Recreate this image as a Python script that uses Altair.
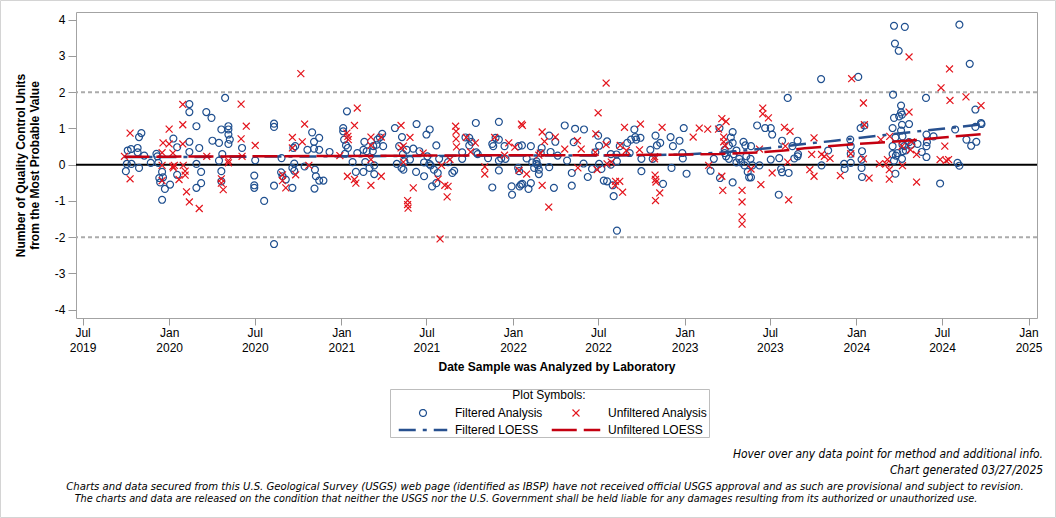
import altair as alt
import numpy as np
import pandas as pd

# ---------------- data (decimal year, units from MPV) ----------------
FILT_YEAR = [
    2019.750, 2019.754, 2019.760, 2019.779, 2019.783, 2019.818, 2019.818, 2019.827, 2019.841, 2019.827,
    2019.856, 2019.895, 2019.928, 2019.932, 2019.938, 2019.944, 2019.948, 2019.961, 2019.961, 2019.967,
    2019.977, 2020.006, 2020.025, 2020.048, 2020.048, 2020.118, 2020.118, 2020.118, 2020.118, 2020.159,
    2020.159, 2020.161, 2020.176, 2020.188, 2020.188, 2020.217, 2020.246, 2020.252, 2020.292, 2020.292,
    2020.304, 2020.304, 2020.304, 2020.310, 2020.327, 2020.345, 2020.345, 2020.345, 2020.345, 2020.355,
    2020.426, 2020.502, 2020.496, 2020.496, 2020.496, 2020.554, 2020.612, 2020.612, 2020.612, 2020.612,
    2020.651, 2020.659, 2020.655, 2020.678, 2020.717, 2020.717, 2020.723, 2020.728, 2020.728, 2020.733,
    2020.787, 2020.804, 2020.833, 2020.843, 2020.843, 2020.849, 2020.853, 2020.845, 2020.874, 2020.874,
    2020.874, 2020.897, 2020.932, 2021.013, 2021.013, 2021.019, 2021.033, 2021.029, 2021.039, 2021.023,
    2021.066, 2021.087, 2021.095, 2021.130, 2021.135, 2021.130, 2021.149, 2021.140, 2021.165, 2021.184,
    2021.188, 2021.194, 2021.194, 2021.208, 2021.213, 2021.227, 2021.240, 2021.246, 2021.314, 2021.324,
    2021.337, 2021.353, 2021.356, 2021.359, 2021.368, 2021.362, 2021.382, 2021.401, 2021.420, 2021.436,
    2021.440, 2021.455, 2021.484, 2021.484, 2021.498, 2021.504, 2021.513, 2021.517, 2021.523, 2021.541,
    2021.531, 2021.556, 2021.556, 2021.562, 2021.570, 2021.624, 2021.649, 2021.659, 2021.705, 2021.705,
    2021.725, 2021.746, 2021.746, 2021.760, 2021.785, 2021.789, 2021.795, 2021.856, 2021.880, 2021.880,
    2021.886, 2021.899, 2021.920, 2021.920, 2021.920, 2021.920, 2021.934, 2021.953, 2021.957, 2021.992,
    2021.996, 2022.031, 2022.035, 2022.037, 2022.041, 2022.047, 2022.054, 2022.056, 2022.080, 2022.093,
    2022.105, 2022.105, 2022.115, 2022.124, 2022.138, 2022.138, 2022.147, 2022.151, 2022.153, 2022.163,
    2022.169, 2022.211, 2022.211, 2022.221, 2022.240, 2022.248, 2022.263, 2022.304, 2022.316, 2022.345,
    2022.345, 2022.356, 2022.364, 2022.414, 2022.413, 2022.438, 2022.463, 2022.481, 2022.496, 2022.502,
    2022.502, 2022.516, 2022.531, 2022.548, 2022.550, 2022.570, 2022.570, 2022.583, 2022.589, 2022.606,
    2022.603, 2022.606, 2022.622, 2022.667, 2022.680, 2022.690, 2022.709, 2022.715, 2022.719, 2022.744,
    2022.748, 2022.748, 2022.802, 2022.816, 2022.831, 2022.841, 2022.860, 2022.874, 2022.919, 2022.926,
    2022.932, 2022.971, 2022.996, 2022.987, 2022.990, 2023.013, 2023.151, 2023.170, 2023.203, 2023.208,
    2023.233, 2023.233, 2023.242, 2023.258, 2023.258, 2023.271, 2023.281, 2023.281, 2023.281, 2023.287,
    2023.304, 2023.304, 2023.320, 2023.330, 2023.343, 2023.349, 2023.355, 2023.359, 2023.368, 2023.378,
    2023.388, 2023.388, 2023.384, 2023.397, 2023.423, 2023.436, 2023.471, 2023.504, 2023.510, 2023.504,
    2023.548, 2023.552, 2023.562, 2023.568, 2023.568, 2023.601, 2023.606, 2023.630, 2023.640, 2023.659,
    2023.659, 2023.663, 2023.795, 2023.798, 2023.837, 2023.930, 2023.934, 2023.965, 2023.969, 2023.969,
    2023.969, 2024.012, 2024.027, 2024.033, 2024.031, 2024.031, 2024.033, 2024.047, 2024.221, 2024.283,
    2024.225, 2024.246, 2024.215, 2024.221, 2024.211, 2024.227, 2024.211, 2024.211, 2024.221, 2024.227,
    2024.231, 2024.240, 2024.250, 2024.260, 2024.260, 2024.266, 2024.266, 2024.260, 2024.269, 2024.269,
    2024.273, 2024.266, 2024.279, 2024.289, 2024.308, 2024.308, 2024.322, 2024.356, 2024.380, 2024.405,
    2024.409, 2024.411, 2024.409, 2024.409, 2024.449, 2024.487, 2024.574, 2024.589, 2024.601, 2024.601,
    2024.659, 2024.641, 2024.667, 2024.692, 2024.692, 2024.699, 2024.725, 2024.729,
]
FILT_VAL = [
    -0.18, 0.02, 0.39, 0.43, 0.02, 0.46, 0.34, 0.76, 0.87, -0.09,
    0.25, 0.05, 0.30, 0.23, 0.05, -0.37, -0.49, -0.20, -0.97, -0.35,
    -0.67, -0.55, 0.72, 0.48, -0.28, 1.67, 1.45, 0.63, 0.35, 1.06,
    0.02, -0.64, 0.46, -0.20, -0.51, 1.45, 1.29, 0.66, 0.60, 0.11,
    -0.18, -0.46, 0.97, 0.29, 1.84, 1.06, 0.97, 0.83, 0.57, 0.69,
    0.46, 0.12, -0.30, -0.57, -0.64, -1.00, 1.13, 1.04, -0.58, -2.19,
    -0.21, -0.32, 0.18, -0.41, -0.09, -0.64, 0.46, 0.03, -0.17, 0.51,
    -0.05, 0.41, 0.89, 0.63, 0.44, -0.14, -0.32, -0.66, 0.74, 0.41,
    -0.44, -0.44, 0.35, 1.01, 0.92, 0.69, 1.47, 0.53, 0.46, 0.30,
    0.07, -0.20, 0.32, -0.20, 0.63, 0.41, 0.37, 0.07, -0.09, 0.37,
    0.51, -0.26, -0.02, 0.55, 0.69, 0.75, 0.85, 0.51, 1.01, 0.02,
    0.51, -0.09, 0.76, 0.29, 0.09, -0.14, 0.41, 0.14, 0.44, -0.20,
    1.12, 0.37, 0.06, -0.32, 0.83, 0.23, 0.02, 0.97, -0.02, -0.14,
    -0.60, 0.53, -0.51, -0.23, 0.16, 0.07, -0.23, -0.17, 0.34, 0.16,
    0.75, 0.74, 0.53, 0.63, 1.15, 0.34, 0.29, 0.18, 0.57, -0.63,
    0.51, 0.74, 1.18, 0.69, -0.16, 0.11, 0.17, 0.51, 0.16, -0.60,
    -0.83, -0.09, 0.51, -0.18, -0.60, -0.55, 0.53, -0.53, 0.17, -0.67,
    0.51, -0.51, 0.06, -0.09, 0.09, 0.02, -0.02, -0.14, -0.26, 0.32,
    0.46, 0.80, -0.07, 0.35, -0.64, 0.63, 0.25, 1.08, 0.11, -0.23,
    -0.58, 0.62, 0.99, 0.97, 0.03, -0.34, -0.12, 0.34, 0.80, 0.52,
    0.02, -0.12, -0.44, 0.64, -0.46, 0.29, 0.00, -0.57, -0.87, -1.82,
    0.28, 0.09, 0.51, 0.60, 0.32, 0.69, 0.97, 0.76, 0.69, 0.74,
    -0.18, 0.16, 0.41, 0.16, 0.80, 0.53, 0.60, -0.53, 0.76, -0.09,
    0.51, 0.66, 1.01, 0.32, 0.17, -0.25, -0.17, 0.16, 1.01, -0.37,
    0.41, 0.32, 0.23, 0.16, 0.53, 0.75, 0.60, 0.90, -0.49, 0.29,
    0.39, 0.06, 0.16, 0.06, 0.63, -0.02, 0.53, 0.23, -0.20, -0.35,
    0.51, -0.35, 0.16, -0.02, 1.08, -0.02, 1.01, 1.01, 0.83, 0.14,
    -0.83, 0.18, -0.12, -0.21, 0.66, 1.84, -0.23, 0.51, 0.17, 0.23,
    0.66, 0.29, 2.36, -0.02, 0.39, 0.02, -0.12, 0.69, 0.51, 0.30,
    0.05, 2.42, 1.01, 0.37, 0.14, -0.09, -0.34, 1.08, 3.83, 3.80,
    3.34, 3.14, 1.93, 1.29, 1.01, 0.75, 0.51, 0.29, 0.11, -0.25,
    0.25, 0.32, 1.33, 1.44, 1.63, 1.38, 1.10, 0.94, 0.78, 0.55,
    0.37, 0.16, 0.51, 0.39, 1.12, 0.62, 0.55, 0.57, 0.35, 1.84,
    0.83, 0.62, 0.51, 0.21, 0.78, -0.52, 0.97, 0.05, -0.03, 3.86,
    2.78, 0.69, 0.52, 1.52, 1.04, 0.63, 1.15, 1.12,
]
UNF_YEAR = [
    2019.740, 2019.773, 2019.773, 2019.967, 2019.961, 2019.961, 2019.961, 2020.002, 2020.002, 2020.022,
    2020.022, 2020.025, 2020.031, 2020.060, 2020.080, 2020.080, 2020.080, 2020.083, 2020.093, 2020.093,
    2020.103, 2020.118, 2020.176, 2020.219, 2020.304, 2020.304, 2020.316, 2020.345, 2020.345, 2020.420,
    2020.420, 2020.426, 2020.449, 2020.502, 2020.659, 2020.659, 2020.678, 2020.717, 2020.717, 2020.737,
    2020.767, 2020.787, 2020.775, 2020.814, 2020.994, 2021.033, 2021.039, 2021.042, 2021.037, 2021.077,
    2021.077, 2021.087, 2021.095, 2021.174, 2021.174, 2021.174, 2021.174, 2021.233, 2021.233, 2021.349,
    2021.349, 2021.362, 2021.362, 2021.401, 2021.420, 2021.388, 2021.388, 2021.391, 2021.478, 2021.576,
    2021.585, 2021.566, 2021.605, 2021.618, 2021.624, 2021.667, 2021.669, 2021.669, 2021.673, 2021.634,
    2021.731, 2021.756, 2021.783, 2021.837, 2021.837, 2021.895, 2021.953, 2021.978, 2022.012, 2022.037,
    2022.056, 2022.051, 2022.080, 2022.170, 2022.170, 2022.161, 2022.186, 2022.209, 2022.151, 2022.248,
    2022.302, 2022.376, 2022.380, 2022.399, 2022.481, 2022.483, 2022.496, 2022.492, 2022.545, 2022.545,
    2022.550, 2022.573, 2022.599, 2022.597, 2022.622, 2022.626, 2022.641, 2022.651, 2022.661, 2022.744,
    2022.738, 2022.826, 2022.830, 2022.831, 2022.831, 2022.855, 2022.870, 2022.826, 2022.835, 2023.052,
    2023.087, 2023.136, 2023.141, 2023.199, 2023.219, 2023.242, 2023.228, 2023.228, 2023.219, 2023.223,
    2023.236, 2023.335, 2023.335, 2023.335, 2023.335, 2023.388, 2023.436, 2023.446, 2023.455, 2023.455,
    2023.490, 2023.510, 2023.581, 2023.587, 2023.601, 2023.606, 2023.614, 2023.731, 2023.740, 2023.756,
    2023.756, 2023.798, 2023.814, 2023.849, 2023.907, 2023.969, 2023.973, 2024.042, 2024.047, 2024.042,
    2024.076, 2024.134, 2024.144, 2024.173, 2024.182, 2024.192, 2024.192, 2024.196, 2024.266, 2024.269,
    2024.308, 2024.308, 2024.316, 2024.322, 2024.351, 2024.351, 2024.492, 2024.487, 2024.516, 2024.522,
    2024.541, 2024.545, 2024.537, 2024.638, 2024.725,
]
UNF_VAL = [
    0.23, 0.87, -0.39, 0.60, -0.02, -0.44, 0.33, 0.98, 0.57, 0.32,
    -0.05, -0.09, -0.02, -0.41, 1.66, 1.10, 0.57, -0.02, -0.18, -0.29,
    -0.75, -1.03, -1.21, 0.23, -0.39, -0.51, -0.69, 0.11, 0.05, 1.67,
    0.71, 0.23, 1.06, 0.53, -0.28, -0.44, -0.64, 0.75, 0.46, -0.28,
    2.51, 1.12, 0.63, -0.02, 0.25, 0.87, 0.78, 0.69, -0.32, 1.08,
    -0.41, -0.51, 1.56, 0.76, 0.53, 0.14, -0.57, -0.32, 0.76, 1.08,
    0.46, 0.51, 0.07, 0.75, -0.64, -0.99, -1.10, -1.20, 0.32, -2.05,
    -0.02, -0.40, -0.57, -0.89, -0.60, 1.06, 0.92, 0.71, 0.49, 0.14,
    0.75, 0.35, 0.60, -0.06, -0.26, 0.75, 0.26, 0.60, 0.48, -0.16,
    1.08, 1.12, -0.26, 0.90, -0.57, 0.32, 0.64, -1.17, 0.26, 0.76,
    0.43, 0.66, -0.09, 0.43, 0.34, 0.85, 1.43, -0.14, 2.25, 0.55,
    0.02, 0.07, -0.46, -0.57, -0.46, 0.53, -0.76, 1.03, 0.39, 1.12,
    0.41, 0.16, -0.29, -0.41, -0.99, -0.78, 1.03, 0.22, -0.48, 0.76,
    1.01, 0.98, -0.02, 0.98, 1.27, 1.19, 0.76, 0.63, -0.32, -0.71,
    0.52, -0.71, -1.03, -1.44, -1.64, -0.12, 0.43, -0.55, 1.56, 1.40,
    1.29, -0.23, 1.03, 0.51, 0.07, -0.97, 0.92, -0.14, 0.28, 0.74,
    -0.32, 0.28, 0.23, 0.17, -0.30, 0.30, 2.37, 1.70, 1.10, 0.16,
    -0.37, 0.02, 0.69, 0.02, 0.14, -0.14, -0.40, 0.78, 0.51, -0.03,
    2.97, 1.45, 0.41, 0.63, 0.28, -0.48, 2.12, 0.14, 0.51, 0.11,
    2.64, 1.77, 0.14, 1.87, 1.63,
]
LOESS_F_YEAR = [2019.74, 2020.0, 2020.5, 2021.0, 2021.5, 2022.0, 2022.5, 2022.8, 2023.0, 2023.2,
                2023.35, 2023.5, 2023.66, 2023.875, 2024.0, 2024.17, 2024.34, 2024.5, 2024.61, 2024.727]
LOESS_F_VAL = [0.21, 0.21, 0.22, 0.23, 0.24, 0.25, 0.25, 0.26, 0.28, 0.33,
               0.39, 0.46, 0.55, 0.66, 0.73, 0.82, 0.91, 0.99, 1.05, 1.11]
LOESS_U_YEAR = [2019.74, 2020.0, 2020.5, 2021.0, 2021.5, 2022.0, 2022.5, 2022.8, 2023.0, 2023.2,
                2023.35, 2023.45, 2023.58, 2023.7, 2023.875, 2024.0, 2024.17, 2024.33, 2024.5, 2024.6, 2024.727]
LOESS_U_VAL = [0.22, 0.22, 0.23, 0.24, 0.25, 0.26, 0.26, 0.27, 0.28, 0.29,
               0.32, 0.34, 0.39, 0.45, 0.52, 0.57, 0.62, 0.67, 0.75, 0.79, 0.84]

SERIES = ["Filtered Analysis", "Unfiltered Analysis", "Filtered LOESS", "Unfiltered LOESS"]
REF_LIMITS = [-2, 2]
ZERO_LINE = [0]
Y_TICKS = [-4, -3, -2, -1, 0, 1, 2, 3, 4]
X_TICKS = [(2019, 7), (2020, 1), (2020, 7), (2021, 1), (2021, 7), (2022, 1), (2022, 7),
           (2023, 1), (2023, 7), (2024, 1), (2024, 7), (2025, 1)]


def to_date(y):
    yr = int(np.floor(y))
    start = pd.Timestamp(year=yr, month=1, day=1)
    end = pd.Timestamp(year=yr + 1, month=1, day=1)
    return (start + (end - start) * (y - yr)).strftime("%Y-%m-%d")


pts_df = pd.concat([
    pd.DataFrame({"date": [to_date(v) for v in FILT_YEAR], "value": FILT_VAL, "series": SERIES[0]}),
    pd.DataFrame({"date": [to_date(v) for v in UNF_YEAR], "value": UNF_VAL, "series": SERIES[1]}),
], ignore_index=True)
loess_df = pd.concat([
    pd.DataFrame({"date": [to_date(v) for v in LOESS_F_YEAR], "value": LOESS_F_VAL, "series": SERIES[2]}),
    pd.DataFrame({"date": [to_date(v) for v in LOESS_U_YEAR], "value": LOESS_U_VAL, "series": SERIES[3]}),
], ignore_index=True)
ref_df = pd.DataFrame({"value": REF_LIMITS})
zero_df = pd.DataFrame({"value": ZERO_LINE})

FONT = "Liberation Sans, Arial, sans-serif"
NARROW = "Liberation Sans Narrow, Arial Narrow, DejaVu Sans Condensed, sans-serif"

x_scale = alt.Scale(type="utc", nice=False, domain=[
    alt.DateTime(year=2019, month=6, date=17, utc=True),
    alt.DateTime(year=2025, month=1, date=19, utc=True)])
y_scale = alt.Scale(domain=[-4.23, 4.21], nice=False, zero=False)

x_axis = alt.Axis(
    values=[alt.DateTime(year=y, month=m, date=1, utc=True) for y, m in X_TICKS],
    labelExpr="[utcFormat(datum.value, '%b'), utcFormat(datum.value, '%Y')]",
    title="Date Sample was Analyzed by Laboratory", titleFontWeight="bold", titleFontSize=12,
    titlePadding=8, tickSize=7, labelPadding=2, labelLineHeight=15, labelFontSize=12,
    labelOverlap=False, labelFlush=False, domain=False, grid=False)
y_axis = alt.Axis(
    values=Y_TICKS, labelExpr="'' + datum.value",
    title=["Number of Quality Control Units", "from the Most Probable Value"],
    titleFontWeight="bold", titleFontSize=12, titleLineHeight=14, titlePadding=13,
    tickSize=8, labelPadding=3, labelFontSize=12, domain=False, grid=False)

X = alt.X("date:T", scale=x_scale, axis=x_axis)
Y = alt.Y("value:Q", scale=y_scale, axis=y_axis)

XPATH = "M-1,-1L1,1M-1,1L1,-1"
LINEPATH = "M-7,-0.18L7,-0.18M-7,0.18L7,0.18"
color_scale = alt.Scale(domain=SERIES, range=["#1f4f8f", "#e3141c", "#27508f", "#c40010"])
shape_scale = alt.Scale(domain=SERIES, range=["circle", XPATH, LINEPATH, LINEPATH])
dash_scale = alt.Scale(domain=SERIES, range=[[1, 0], [1, 0], [17, 7, 4, 7], [25, 7]])
leg = alt.Legend(title="Plot Symbols:")

frame = alt.Chart(alt.Data(values=[{}])).mark_rect(
    fillOpacity=0, stroke="#d4d4d4", strokeWidth=1).encode(
    x=alt.value(-75.5), x2=alt.value(979.5), y=alt.value(-11.5), y2=alt.value(505.5))

ref = alt.Chart(ref_df).mark_rule(color="#ababab", strokeWidth=2, strokeDash=[4, 3]).encode(y=Y)
zero = alt.Chart(zero_df).mark_rule(color="black", strokeWidth=2).encode(y=Y)

points = alt.Chart(pts_df).mark_point(filled=False, opacity=1, strokeWidth=1.2, size=48).encode(
    x=X, y=Y,
    color=alt.Color("series:N", scale=color_scale, legend=leg),
    shape=alt.Shape("series:N", scale=shape_scale, legend=leg),
)
loess = alt.Chart(loess_df).mark_line(strokeWidth=2.5).encode(
    x=X, y=Y,
    color=alt.Color("series:N", scale=color_scale, legend=leg),
    strokeDash=alt.StrokeDash("series:N", scale=dash_scale, legend=leg),
)


def note(text, x, y, align, size):
    return alt.Chart(alt.Data(values=[{}])).mark_text(
        text=text, align=align, baseline="middle", font=NARROW, fontStyle="italic",
        fontSize=size, color="black").encode(x=alt.value(x), y=alt.value(y))


notes = [
    note("Hover over any data point for method and additional info.", 967, 442, "right", 11.9),
    note("Chart generated 03/27/2025", 967, 458, "right", 11.9),
    note("Charts and data secured from this U.S. Geological Survey (USGS) web page (identified as IBSP) have not "
         "received official USGS approval and as such are provisional and subject to revision.", 469, 475, "center", 11.25),
    note("The charts and data are released on the condition that neither the USGS nor the U.S. Government shall be "
         "held liable for any damages resulting from its authorized or unauthorized use.", 450, 487, "center", 10.8),
]

chart = alt.layer(frame, ref, zero, points, loess, *notes).properties(
    width=961, height=306,
    autosize=alt.AutoSizeParams(type="none"),
    padding={"left": 76, "top": 12, "right": 19, "bottom": 200},
).configure(font=FONT, background="white").configure_view(
    stroke="#a3a3a3", strokeWidth=1
).configure_axis(
    labelFont=FONT, titleFont=FONT, labelColor="black", titleColor="black", tickColor="#9a9a9a"
).configure_legend(
    orient="none", legendX=314, legendY=377, columns=2, direction="horizontal", padding=1,
    strokeColor="#bdbdbd", titleAnchor="middle", titleFont=FONT, titleFontSize=12,
    titleFontWeight="normal", titleColor="black", titlePadding=5,
    labelFont=FONT, labelFontSize=12, labelColor="black", labelOffset=26, symbolOffset=26,
    symbolSize=48, symbolStrokeWidth=1.2, rowPadding=5, columnPadding=-4,
)

chart.save("out.html", embed_options={"renderer": "svg", "actions": False})
